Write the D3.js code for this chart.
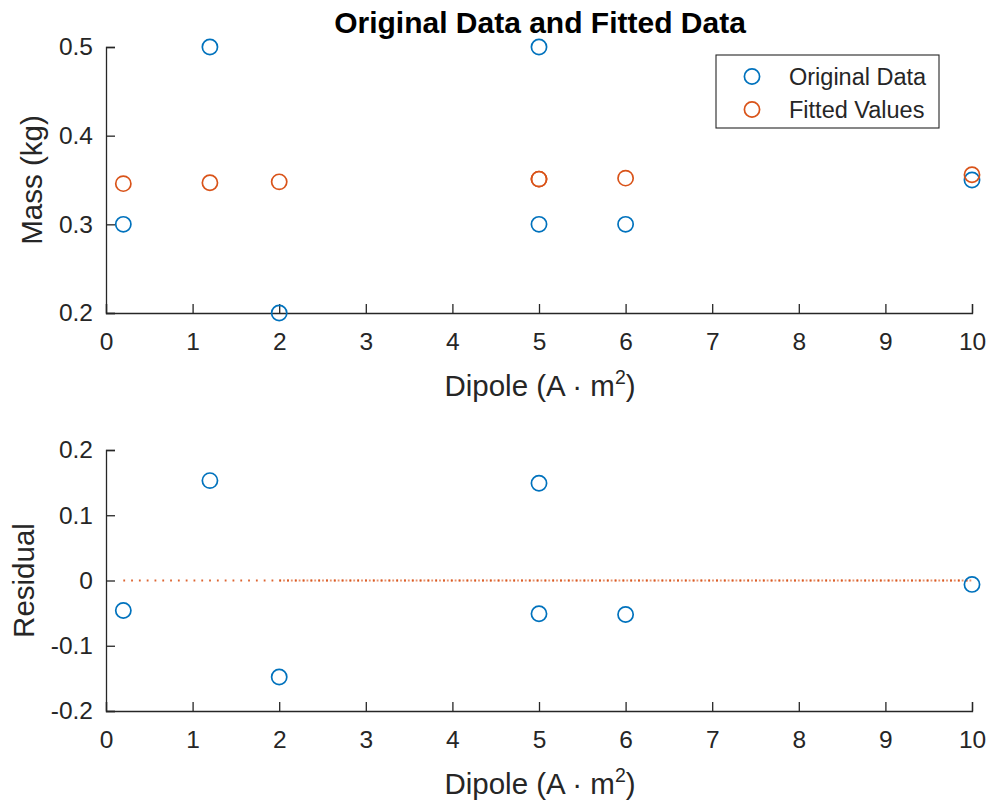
<!DOCTYPE html>
<html>
<head>
<meta charset="utf-8">
<script src="https://cdn.jsdelivr.net/npm/d3@7"></script>
<style>
  body { margin: 0; background: #fff; }
  svg { display: block; font-family: "Liberation Sans", Arial, Helvetica, sans-serif; }
</style>
</head>
<body>
<svg id="chart" width="990" height="810"></svg>
<script>
// Measurements: dipole moment vs. mass, with a linear fit and its residuals
const dipole   = [0.2, 1.2, 2, 5, 5, 6, 10];
const mass     = [0.3, 0.5, 0.2, 0.5, 0.3, 0.3, 0.35];
const fitted   = [0.3459, 0.3469, 0.3479, 0.3510, 0.3510, 0.3521, 0.3560];
const residual = [-0.0459, 0.1531, -0.1479, 0.1490, -0.0510, -0.0521, -0.0060];

const xTicks      = [0, 1, 2, 3, 4, 5, 6, 7, 8, 9, 10];
const massTicks   = [0.2, 0.3, 0.4, 0.5];
const residTicks  = [-0.2, -0.1, 0, 0.1, 0.2];
const seriesNames = ["Original Data", "Fitted Values"];

const BLUE = "#0072BD", ORANGE = "#D95319", INK = "#262626";
const TICK_FONT = 24.5, LABEL_FONT = 29.5, LEGEND_FONT = 23.5, TITLE_FONT = 30;
const svg = d3.select("#chart");

const left = 106, right = 972, tickLen = 9;
const fmtTick = d => (d === 0 ? "0" : d.toFixed(1)); // plain hyphen for negatives

function axesPanel(y0, y1, yDomain, yTicks, yLabel, yLabelX) {
  const x = d3.scaleLinear().domain([0, 10]).range([left, right]);
  const y = d3.scaleLinear().domain(yDomain).range([y1, y0]);
  const g = svg.append("g");

  const xAxis = g.append("g").attr("transform", `translate(0,${y1})`)
    .call(d3.axisBottom(x).tickValues(xTicks).tickSize(-tickLen).tickPadding(20).tickFormat(d3.format("d")));
  const yAxis = g.append("g").attr("transform", `translate(${left},0)`)
    .call(d3.axisLeft(y).tickValues(yTicks).tickSize(-tickLen).tickPadding(13).tickFormat(fmtTick));
  [xAxis, yAxis].forEach(a => {
    a.select(".domain").attr("stroke", INK).attr("stroke-width", 1.3);
    a.selectAll(".tick line").attr("stroke", INK).attr("stroke-width", 1.3);
    a.selectAll(".tick text").attr("fill", INK).attr("font-size", TICK_FONT)
      .attr("font-family", "'Liberation Sans', Arial, sans-serif");
  });

  // x label with superscript
  const xl = g.append("text").attr("x", (left + right) / 2 + 1).attr("y", y1 + 83)
    .attr("text-anchor", "middle").attr("fill", INK).attr("font-size", LABEL_FONT);
  xl.append("tspan").text("Dipole (A \u00B7 m");
  xl.append("tspan").attr("dy", -12).attr("font-size", 19.5).text("2");
  xl.append("tspan").attr("dy", 12).text(")");

  g.append("text").attr("transform", `translate(${yLabelX},${(y0 + y1) / 2}) rotate(-90)`)
    .attr("text-anchor", "middle").attr("fill", INK).attr("font-size", LABEL_FONT).text(yLabel);

  return { x, y, g };
}

function circles(g, xs, ys, x, y, color) {
  g.selectAll(null).data(xs).join("circle")
    .attr("cx", (d) => x(d)).attr("cy", (d, i) => y(ys[i]))
    .attr("r", 7.6).attr("fill", "none").attr("stroke", color).attr("stroke-width", 1.7);
}

// Top panel: mass vs dipole
const massPanel = axesPanel(47, 313, [0.2, 0.5], massTicks, "Mass (kg)", 42);
circles(massPanel.g, dipole, mass, massPanel.x, massPanel.y, BLUE);
circles(massPanel.g, dipole, fitted, massPanel.x, massPanel.y, ORANGE);

svg.append("text").attr("x", 540).attr("y", 33)
  .attr("text-anchor", "middle").attr("fill", "#000").attr("font-size", TITLE_FONT)
  .attr("font-weight", "bold").text("Original Data and Fitted Data");

// Legend
const lg = svg.append("g");
lg.append("rect").attr("x", 716).attr("y", 55).attr("width", 223).attr("height", 73)
  .attr("fill", "#fff").attr("stroke", INK).attr("stroke-width", 1.1);
seriesNames.forEach((name, i) => {
  const cy = 76.5 + i * 33;
  lg.append("circle").attr("cx", 752).attr("cy", cy).attr("r", 7.6)
    .attr("fill", "none").attr("stroke", i === 0 ? BLUE : ORANGE).attr("stroke-width", 1.7);
  lg.append("text").attr("x", 789).attr("y", cy + 8.5).attr("fill", INK)
    .attr("font-size", LEGEND_FONT).text(name);
});

// Bottom panel: residuals
const residPanel = axesPanel(450, 711, [-0.2, 0.2], residTicks, "Residual", 34);

// zero reference line (dotted), drawn over two overlapping spans
const zeroLine = d3.line().x(d => residPanel.x(d)).y(() => residPanel.y(0));
residPanel.g.append("path").datum([dipole[0], dipole[dipole.length - 1]]).attr("d", zeroLine)
  .attr("stroke", ORANGE).attr("stroke-opacity", 0.9).attr("stroke-width", 1.8)
  .attr("stroke-dasharray", "1.8,6").attr("fill", "none");
residPanel.g.append("path").datum([dipole[2], dipole[dipole.length - 1]]).attr("d", zeroLine)
  .attr("stroke", ORANGE).attr("stroke-opacity", 0.65).attr("stroke-width", 1.8)
  .attr("stroke-dasharray", "1.8,2.1").attr("fill", "none");

circles(residPanel.g, dipole, residual, residPanel.x, residPanel.y, BLUE);
</script>
</body>
</html>
